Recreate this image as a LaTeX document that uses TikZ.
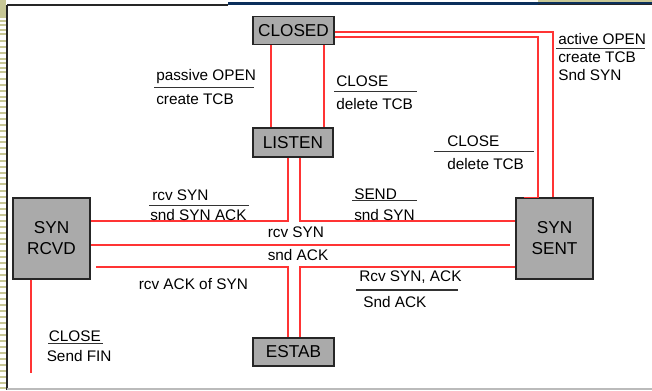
\documentclass[tikz,border=0pt]{standalone}
\usepackage{fontspec}
\setmainfont{Liberation Sans}
\definecolor{boxgray}{HTML}{AAAAAA}
\definecolor{wirered}{HTML}{FF3434}
\definecolor{rulegray}{HTML}{333333}
\definecolor{olivestrip}{HTML}{C8C896}
\definecolor{navyline}{HTML}{0B2F5B}
\definecolor{framegray}{HTML}{BBBBBB}
\newcommand\stfont{\fontsize{12.9}{15.75}\selectfont}
\newcommand\lbfont{\fontsize{11.5}{13}\selectfont}
\begin{document}
\begin{tikzpicture}[x=0.75pt,y=-0.75pt,
  state/.style={draw=black!85,line width=1.1pt,fill=boxgray,inner sep=0pt,font=\stfont,align=center},
  wire/.style={draw=wirered,line width=1pt},
  lbl/.style={anchor=base west,inner sep=0pt,font=\lbfont},
  rulel/.style={draw=rulegray,line width=1.1pt}]
\useasboundingbox (0,0) rectangle (652,390);
% slide frame
\fill[olivestrip] (0,0) rectangle (6,18);
\foreach \yy in {20,24,29,33,40,46,52,58,62,67,71,78,84,90,96,100,106,112,118,124,130,136,141,147,153,160,166,172,177,183,190,196,202,208,214,220,226,232,238,243,250,256,262,268,274,280,286,292,298,304,310,316,322,328,334,340,346,352,358,364,370,376,382,387}
  \fill[olivestrip] (0,\yy) rectangle (6,\yy+2.2);
\draw[black!85,line width=1.5pt] (7,5) -- (7,390);
\draw[black!85,line width=1.2pt] (7,5.2) -- (228,5.2);
\fill[navyline] (228,2.3) rectangle (652,4.6);
\fill[olivestrip] (538,0) rectangle (652,2.3);
\fill[black!85] (538,4.3) rectangle (652,5.4);
\draw[framegray,line width=1.2pt] (7,389) -- (652,389);

% states
\node[state,minimum width=60.75pt,minimum height=21pt] (CLOSED) at (293.5,30.5) {CLOSED};
\node[state,minimum width=60pt,minimum height=21.75pt] (LISTEN) at (293,142.5) {LISTEN};
\node[state,minimum width=57.75pt,minimum height=60.75pt] (SYNRCVD) at (51.5,238.5) {SYN\\RCVD};
\node[state,minimum width=57.75pt,minimum height=60.75pt] (SYNSENT) at (554.5,238.5) {SYN\\SENT};
\node[state,minimum width=60.75pt,minimum height=21pt] (ESTAB) at (293.5,352) {ESTAB};

% helper coordinates
\coordinate (x271) at (271,0);
\coordinate (x324) at (324,0);
\coordinate (x538) at (538,0);
\coordinate (x553) at (553,0);
\coordinate (x288) at (288,0);
\coordinate (x300) at (300,0);
\coordinate (x31) at (31,0);
\coordinate (y32) at (0,32);
\coordinate (y37) at (0,37);
\coordinate (y221) at (0,221);
\coordinate (y245) at (0,245);
\coordinate (y267) at (0,267);
\coordinate (endmid) at (510,245);
\coordinate (startlow) at (96,267);
\coordinate (endfin) at (31,373);

% connectors
\draw[wire] (CLOSED.south -| x271) -- (LISTEN.north -| x271);
\draw[wire] (CLOSED.south -| x324) -- (LISTEN.north -| x324);
\draw[wire] (CLOSED.east |- y32) -- (553,32) -- (SYNSENT.north -| x553);
\draw[wire] (CLOSED.east |- y37) -- (538,37) -- (SYNSENT.north -| x538) -- ++(-14,0);
\draw[wire] (LISTEN.south -| x288) -- (288,221) -- (SYNRCVD.east |- y221);
\draw[wire] (LISTEN.south -| x300) -- (300,221) -- (SYNSENT.west |- y221);
\draw[wire] (SYNRCVD.east |- y245) -- (endmid);
\draw[wire] (startlow) -- (288,267) -- (ESTAB.north -| x288);
\draw[wire] (SYNSENT.west |- y267) -- (300,267) -- (ESTAB.north -| x300);
\draw[wire] (SYNRCVD.south -| x31) -- (endfin);

% labels
\node[lbl] (l1a) at (156,80) {passive OPEN};
\draw[rulel] (154,87.3) -- (254,87.3);
\node[lbl] (l1b) at (156,104) {create TCB};

\node[lbl] (l2a) at (336,86.5) {CLOSE};
\draw[rulel] (334,91.7) -- (417,91.7);
\node[lbl] (l2b) at (336,109) {delete TCB};

\node[lbl] (l3a) at (558,44) {active OPEN};
\draw[rulel] (556,48.3) -- (645,48.3);
\node[lbl] (l3b) at (558,62.3) {create TCB};
\node[lbl] (l3c) at (558,80) {Snd SYN};

\node[lbl] (l4a) at (447,146) {CLOSE};
\draw[rulel] (434,151.7) -- (534,151.7);
\node[lbl] (l4b) at (447,169.3) {delete TCB};

\node[lbl] (l5a) at (152,200.5) {rcv SYN};
\draw[rulel] (149,205.7) -- (249,205.7);
\node[lbl] (l5b) at (150,220.7) {snd SYN ACK};

\node[lbl] (l6a) at (354,199) {SEND};
\draw[rulel] (352,200.6) -- (417,200.6);
\node[lbl] (l6b) at (354,220.7) {snd SYN};

\node[lbl] (l7a) at (267.5,237.7) {rcv SYN};
\node[lbl] (l7b) at (267.5,260) {snd ACK};

\node[lbl] (l8) at (138.5,289) {rcv ACK of SYN};

\node[lbl] (l9a) at (359,281) {Rcv SYN, ACK};
\draw[rulel] (356,290) -- (458,290);
\node[lbl] (l9b) at (363,307) {Snd ACK};

\node[lbl] (l10a) at (48.5,341.5) {CLOSE};
\draw[rulel] (48,343.6) -- (103,343.6);
\node[lbl] (l10b) at (46.5,361) {Send FIN};
\end{tikzpicture}
\end{document}
